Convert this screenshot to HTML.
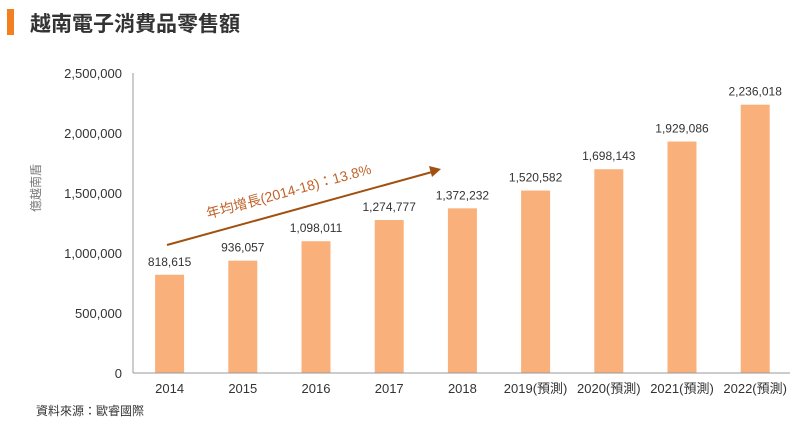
<!DOCTYPE html>
<html><head><meta charset="utf-8"><style>
body{margin:0;background:#fff;width:800px;height:426px;overflow:hidden;font-family:"Liberation Sans","Noto Sans CJK TC",sans-serif;}
</style></head><body>
<svg width="800" height="426" id="chart" style="font-family:'Liberation Sans','Noto Sans CJK TC',sans-serif">
<rect x="7" y="9" width="7" height="26" fill="#f47f20"/>
<text x="30" y="31" font-size="21" fill="#333" font-weight="bold">越南電子消費品零售額</text>
<text transform="translate(40,188) rotate(-90)" text-anchor="middle" font-size="12" fill="#777">億越南盾</text>
<g id="yticks"></g><g id="bars"></g>
<line x1="133" y1="73" x2="133" y2="373" stroke="#999"/>
<line x1="133" y1="373" x2="790" y2="373" stroke="#999"/>
<line x1="167" y1="245" x2="432" y2="172" stroke="#a0500f" stroke-width="2"/>
<polygon points="441,169 429,166 432,177" fill="#a0500f"/>
<text transform="translate(290,196) rotate(-15.4)" text-anchor="middle" font-size="14" fill="#c0632a">年均增長(2014-18)：13.8%</text>
<text x="36" y="415" font-size="12" fill="#333">資料來源：歐睿國際</text>
</svg>
<script>
const categories=["2014","2015","2016","2017","2018","2019(預測)","2020(預測)","2021(預測)","2022(預測)"];
const values=[818615,936057,1098011,1274777,1372232,1520582,1698143,1929086,2236018];
const yTicks=[0,500000,1000000,1500000,2000000,2500000];
const NS="http://www.w3.org/2000/svg";
const y0=373,yTop=73,maxV=2500000,x0=133,step=73.2,bw=29;
const yS=v=>y0-(v/maxV)*(y0-yTop);
const xC=i=>x0+step*(i+0.5);
function mk(tag,attrs,txt){const e=document.createElementNS(NS,tag);for(const k in attrs)e.setAttribute(k,attrs[k]);if(txt!=null)e.textContent=txt;return e;}
const fmt=v=>v.toLocaleString('en-US');
const yt=document.getElementById('yticks');
yTicks.forEach(t=>{const e=mk('text',{x:122,y:yS(t)+5,'text-anchor':'end','font-size':13,fill:'#333'},fmt(t));


yt.appendChild(e);});
const bg=document.getElementById('bars');
values.forEach((v,i)=>{const r=mk('rect',{x:xC(i)-bw/2,y:yS(v),width:bw,height:y0-yS(v),fill:'#f9b07a'});


bg.appendChild(r);
const l=mk('text',{x:xC(i),y:yS(v)-9,'text-anchor':'middle','font-size':12,fill:'#333'},fmt(v));


bg.appendChild(l);
const c=mk('text',{x:xC(i),y:393,'text-anchor':'middle','font-size':13,fill:'#333'},categories[i]);


bg.appendChild(c);});
</script>
</body></html>
